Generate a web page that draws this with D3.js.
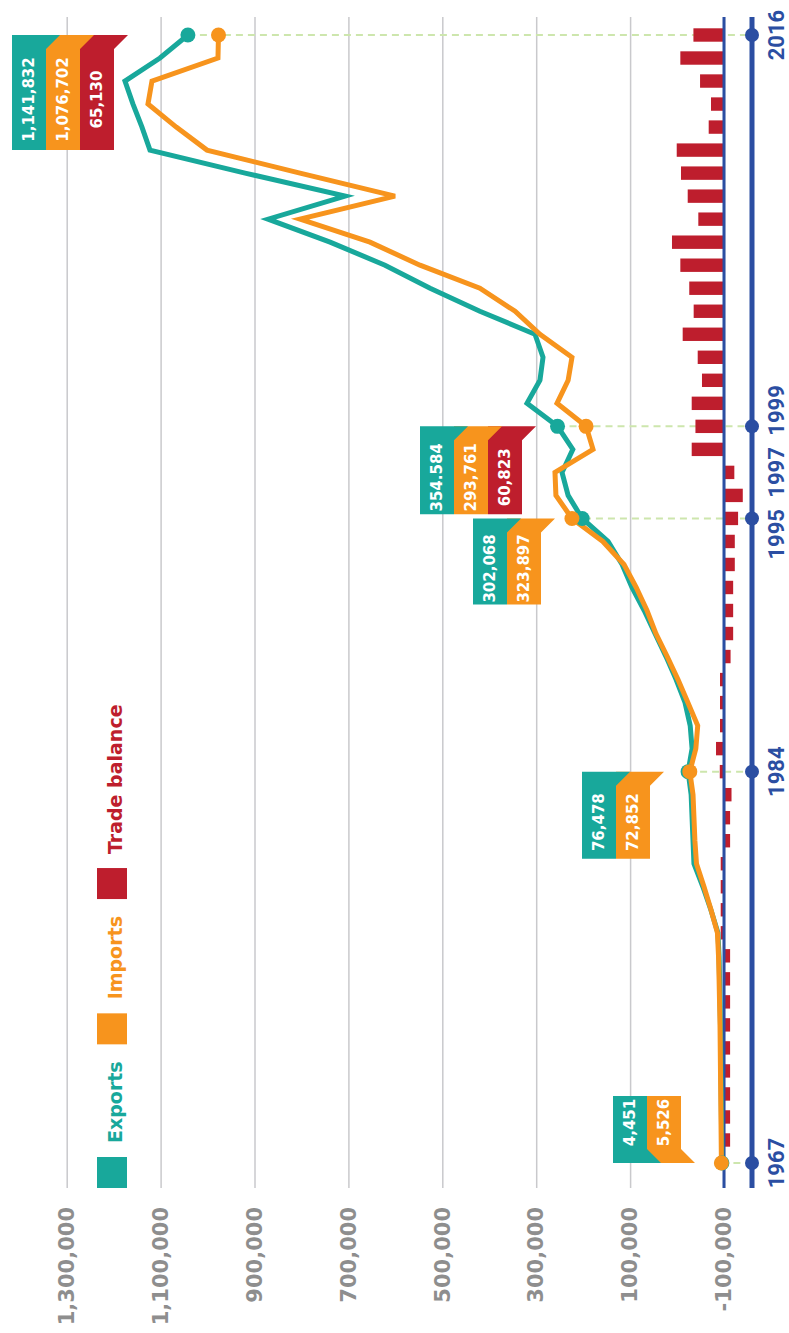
<!DOCTYPE html>
<html>
<head>
<meta charset="utf-8">
<script src="https://cdn.jsdelivr.net/npm/d3@7"></script>
<style>
  html, body { margin: 0; padding: 0; background: #fff; }
  svg { display: block; }
</style>
</head>
<body>
<script>
// chart is drawn landscape (1333 x 789) and then turned -90deg onto the portrait page
const years = [
  1967, 1968, 1969, 1970, 1971, 1972, 1973, 1974, 1975, 1976,
  1977, 1978, 1979, 1980, 1981, 1982, 1983, 1984, 1985, 1986,
  1987, 1988, 1989, 1990, 1991, 1992, 1993, 1994, 1995, 1996,
  1997, 1998, 1999, 2000, 2001, 2002, 2003, 2004, 2005, 2006,
  2007, 2008, 2009, 2010, 2011, 2012, 2013, 2014, 2015, 2016
];
const exportsVals = [
  4451, 5000, 5500, 6000, 6500, 7000, 7500, 8500, 9500, 10500,
  13000, 28000, 45000, 64000, 66000, 68000, 70000, 76478, 68000, 72000,
  83000, 102000, 123500, 147000, 170000, 196000, 217000, 247000, 302068, 332000,
  345000, 322000, 354584, 419600, 392000, 385500, 402600, 520000, 626000, 722000,
  839000, 971000, 807000, 1020000, 1222600, 1239700, 1258800, 1275900, 1201300, 1141832
];
const importsVals = [
  5526, 6000, 6500, 7000, 7500, 8000, 8500, 9500, 10500, 11700,
  14000, 27700, 42600, 58600, 62000, 64000, 66000, 72852, 60000, 56000,
  77000, 98000, 121000, 145000, 164000, 187000, 213000, 258000, 323897, 358000,
  360000, 279000, 293761, 355700, 332000, 323800, 392000, 445000, 520000, 647500,
  754000, 903000, 700800, 903000, 1101200, 1166700, 1226900, 1218400, 1077800, 1076702
];
const balanceVals = [
  -1075, -13000, -13000, -13000, -13000, -13000, -13000, -13000, -13000, -13000,
  7000, 7000, 7000, 7000, -13000, -13000, -16000, 9000, 17000, 8500,
  8500, 8500, -14000, -19500, -19500, -19500, -23000, -23000, -30000, -40000,
  -22000, 68800, 60823, 68800, 46900, 56000, 88000, 64600, 74000, 93000,
  110800, 54700, 77300, 91600, 100700, 32600, 27700, 51000, 93000, 65130
];

const valueTicks = [0, 200000, 400000, 600000, 800000, 1000000, 1200000, 1400000];
const valueTickLabels = ['-100,000', '100,000', '300,000', '500,000', '700,000', '900,000', '1,100,000', '1,300,000'];

const markedYears = [1967, 1984, 1995, 1999, 2016];
const yearLabelYears = [1967, 1984, 1997, 2016];
const yearLabels = ['1967', '1984', '1995 1997 1999', '2016'];

const seriesNames = ['Exports', 'Imports', 'Trade balance'];
const colors = ['#18a89b', '#f7941d', '#be1e2d'];

const callouts = [
  {year: 2016, texts: ['1,141,832', '1,076,702', '65,130']},
  {year: 1999, texts: ['354.584', '293,761', '60,823']},
  {year: 1995, texts: ['302,068', '323,897']},
  {year: 1984, texts: ['76,478', '72,852']},
  {year: 1967, texts: ['4,451', '5,526']}
];
// where each flag sits (landscape coords): left edge, length, direction
const calloutLayout = {
  2016: {y0: 12, h: 115, dir: -1},
  1999: {y0: 420, h: 88, dir: -1},
  1995: {y0: 473, h: 86, dir: -1},
  1984: {y0: 582, h: 87, dir: -1},
  1967: {y0: 613, h: 67, dir: 1}
};

const W = 1333, H = 789;
const blue = '#2b4ea2';
const left = 145, right = 1316;

const svg = d3.select('body').append('svg')
  .attr('width', H)
  .attr('height', W);

const g = svg.append('g').attr('transform', `translate(0,${W}) rotate(-90)`);

const x = d3.scaleLinear().domain([1967, 2016]).range([170, 1298]);
const y = d3.scaleLinear().domain([0, 1400000]).range([724, 66.7]);

// grid + value labels
const axis = g.append('g')
  .attr('transform', `translate(${left},0)`)
  .call(d3.axisLeft(y)
    .tickValues(valueTicks)
    .tickSize(-(right - left))
    .tickPadding(19)
    .tickFormat((d, i) => valueTickLabels[i]));
axis.select('.domain').remove();
axis.selectAll('line').attr('stroke', '#c9c9cc').attr('stroke-width', 1.5);
axis.selectAll('text')
  .attr('font-family', '"DejaVu Sans", sans-serif')
  .attr('font-weight', 'bold')
  .attr('font-size', 21)
  .attr('fill', '#8e8e8e');

const yearLineY = 752;
const idx = yr => years.indexOf(yr);

// dashed guides (under the bars)
g.append('g').selectAll('line')
  .data(markedYears)
  .enter()
  .append('line')
  .attr('x1', d => x(d)).attr('x2', d => x(d))
  .attr('y1', d => Math.min(y(exportsVals[idx(d)]), y(importsVals[idx(d)])))
  .attr('y2', yearLineY)
  .attr('stroke', '#cde6ad')
  .attr('stroke-width', 2)
  .attr('stroke-dasharray', '7,5');

// trade balance bars
g.append('g').selectAll('rect')
  .data(years)
  .enter()
  .append('rect')
  .attr('x', d => x(d) - 6.7)
  .attr('width', 13.4)
  .attr('y', (d, i) => Math.min(y(0), y(balanceVals[i])))
  .attr('height', (d, i) => Math.abs(y(balanceVals[i]) - y(0)))
  .attr('fill', colors[2]);

// zero line and the year line
g.append('line')
  .attr('x1', left).attr('x2', right)
  .attr('y1', y(0)).attr('y2', y(0))
  .attr('stroke', blue).attr('stroke-width', 3);

g.append('line')
  .attr('x1', left).attr('x2', right)
  .attr('y1', yearLineY).attr('y2', yearLineY)
  .attr('stroke', blue).attr('stroke-width', 5);

g.append('g').selectAll('circle')
  .data(markedYears)
  .enter()
  .append('circle')
  .attr('cx', d => x(d))
  .attr('cy', yearLineY)
  .attr('r', 7)
  .attr('fill', blue);

g.append('g').selectAll('text')
  .data(yearLabelYears)
  .enter()
  .append('text')
  .attr('x', d => x(d))
  .attr('y', 784)
  .attr('text-anchor', 'middle')
  .attr('font-family', 'Roboto, sans-serif')
  .attr('font-weight', 'bold')
  .attr('font-size', 22)
  .attr('fill', blue)
  .attr('word-spacing', 6)
  .text((d, i) => yearLabels[i]);

// lines
const line = d3.line()
  .x((d, i) => x(years[i]))
  .y(d => y(d));

[exportsVals, importsVals].forEach((vals, k) => {
  g.append('path')
    .datum(vals)
    .attr('d', line)
    .attr('fill', 'none')
    .attr('stroke', colors[k])
    .attr('stroke-width', 5);
});

[exportsVals, importsVals].forEach((vals, k) => {
  g.append('g').selectAll('circle')
    .data(markedYears)
    .enter()
    .append('circle')
    .attr('cx', d => x(d))
    .attr('cy', d => y(vals[idx(d)]))
    .attr('r', 7.5)
    .attr('fill', colors[k]);
});

// flag callouts
const boxW = 34, tail = 14;
callouts.forEach(c => {
  const L = calloutLayout[c.year];
  const a = x(c.year);
  const cg = g.append('g');
  for (let i = c.texts.length - 1; i >= 0; i--) {
    const y0 = L.y0 + i * boxW;
    const pts = [
      [a, y0],
      [a, y0 + boxW + tail],
      [a + L.dir * tail, y0 + boxW],
      [a + L.dir * L.h, y0 + boxW],
      [a + L.dir * L.h, y0]
    ];
    cg.append('polygon')
      .attr('points', pts.map(p => p.join(',')).join(' '))
      .attr('fill', colors[i]);
  }
  c.texts.forEach((t, i) => {
    cg.append('text')
      .attr('x', a + L.dir * (tail + (L.h - tail) / 2))
      .attr('y', L.y0 + i * boxW + boxW / 2)
      .attr('dy', '0.36em')
      .attr('text-anchor', 'middle')
      .attr('font-family', '"DejaVu Sans", sans-serif')
      .attr('font-weight', 'bold')
      .attr('font-size', 15)
      .attr('fill', '#fff')
      .text(t);
  });
});

// legend
const legend = g.append('g');
let lx = left;
seriesNames.forEach((name, i) => {
  legend.append('rect')
    .attr('x', lx).attr('y', 97)
    .attr('width', 31).attr('height', 30)
    .attr('fill', colors[i]);
  const txt = legend.append('text')
    .attr('x', lx + 45)
    .attr('y', 122)
    .attr('font-family', '"DejaVu Sans", sans-serif')
    .attr('font-weight', 'bold')
    .attr('font-size', 19)
    .attr('fill', colors[i])
    .text(name);
  lx += 45 + txt.node().getComputedTextLength() + 17;
});
</script>
</body>
</html>
